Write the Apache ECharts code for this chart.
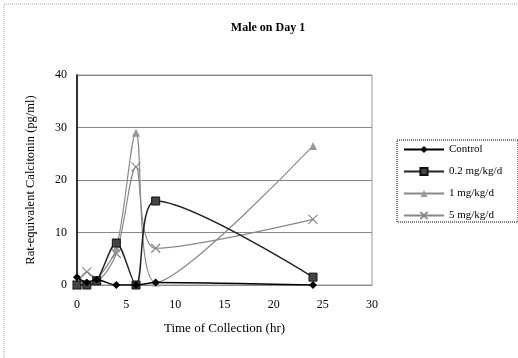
<!DOCTYPE html>
<html>
<head>
<meta charset="utf-8">
<script src="https://cdn.jsdelivr.net/npm/echarts@6/dist/echarts.min.js"></script>
<style>
  html, body { margin: 0; padding: 0; background: #fff; }
  #chart { width: 518px; height: 358px; }
</style>
</head>
<body>
<div id="chart"></div>
<script>
// Collection times (hr) and concentrations (pg/ml) per dose group
var times = [0, 1, 2, 4, 6, 8, 24];
var control = [1.5, 0.5, 1, 0, 0, 0.5, 0];
var dose02 = [0, 0, 0.8, 8, 0, 16, 1.5];
var dose1 = [0, 0, 1, 7, 29, 0.5, 26.5];
var dose5 = [0, 2.5, 1, 6, 22.5, 7, 12.5];
var seriesNames = ['Control', '0.2 mg/kg/d', '1 mg/kg/d', '5 mg/kg/d'];
var xTicks = [0, 5, 10, 15, 20, 25, 30];
var yTicks = [0, 10, 20, 30, 40];

function pairs(vals) {
  return times.map(function (t, i) { return [t, vals[i]]; });
}

var serif = '"Liberation Serif", "DejaVu Serif", serif';
var crossPath = 'path://M0,0L10,10M10,0L0,10';

var chart = echarts.init(document.getElementById('chart'));
chart.setOption({
  animation: false,
  backgroundColor: '#fff',
  title: {
    text: 'Male on Day 1',
    left: 263, top: 17, textAlign: 'center',
    textStyle: { fontFamily: serif, fontSize: 12, fontWeight: 'bold', color: '#000' }
  },
  grid: {
    left: 77, top: 75, right: 146, bottom: 73,
    show: true, borderColor: '#999', borderWidth: 1
  },
  xAxis: {
    type: 'value', min: xTicks[0], max: xTicks[xTicks.length - 1], interval: 5,
    name: 'Time of Collection (hr)', nameLocation: 'middle', nameGap: 37,
    nameTextStyle: { fontFamily: serif, fontSize: 13, color: '#000' },
    axisLine: { show: true, onZero: false, lineStyle: { color: '#888' } },
    axisTick: { show: false },
    splitLine: { show: false },
    axisLabel: { fontFamily: serif, fontSize: 12, color: '#000', margin: 14 }
  },
  yAxis: {
    type: 'value', min: yTicks[0], max: yTicks[yTicks.length - 1], interval: 10,
    name: 'Rat-equivalent Calcitonin (pg/ml)', nameLocation: 'middle', nameGap: 40,
    nameTextStyle: { fontFamily: serif, fontSize: 12.5, color: '#000' },
    axisLine: { show: true, lineStyle: { color: '#000', width: 1.5 } },
    axisTick: { show: false },
    splitLine: { show: true, lineStyle: { color: '#888', width: 1 } },
    axisLabel: { fontFamily: serif, fontSize: 12, color: '#000', margin: 10 }
  },
  legend: {
    orient: 'vertical', left: 398, top: 139,
    itemWidth: 40, itemHeight: 9, itemGap: 11,
    textStyle: { fontFamily: serif, fontSize: 11, color: '#000' },
    data: seriesNames
  },
  graphic: [
    {
      type: 'rect', z: -1,
      shape: { x: 397, y: 140, width: 121, height: 82 },
      style: { fill: '#fff', stroke: '#000', lineWidth: 1, lineDash: [1, 1] }
    },
    {
      type: 'rect', z: -2,
      shape: { x: 4, y: 4, width: 530, height: 370 },
      style: { fill: 'none', stroke: '#aaa', lineWidth: 1, lineDash: [1, 1] }
    }
  ],
  series: [
    {
      name: seriesNames[0], type: 'line', smooth: 0.3, data: pairs(control),
      symbol: 'diamond', symbolSize: 8,
      lineStyle: { color: '#000', width: 1.5 },
      itemStyle: { color: '#000' }, z: 5
    },
    {
      name: seriesNames[1], type: 'line', smooth: 0.3, data: pairs(dose02),
      symbol: 'rect', symbolSize: 8,
      lineStyle: { color: '#222', width: 1.5 },
      itemStyle: { color: '#444', borderColor: '#111', borderWidth: 1 }, z: 4
    },
    {
      name: seriesNames[2], type: 'line', smooth: 0.3, data: pairs(dose1),
      symbol: 'triangle', symbolSize: 8,
      lineStyle: { color: '#888', width: 1.2 },
      itemStyle: { color: '#999' }, z: 3
    },
    {
      name: seriesNames[3], type: 'line', smooth: 0.3, data: pairs(dose5),
      symbol: crossPath, symbolSize: 9,
      lineStyle: { color: '#888', width: 1.2 },
      itemStyle: { color: '#888', borderColor: '#888', borderWidth: 1.2 }, z: 2
    }
  ]
});
</script>
</body>
</html>
